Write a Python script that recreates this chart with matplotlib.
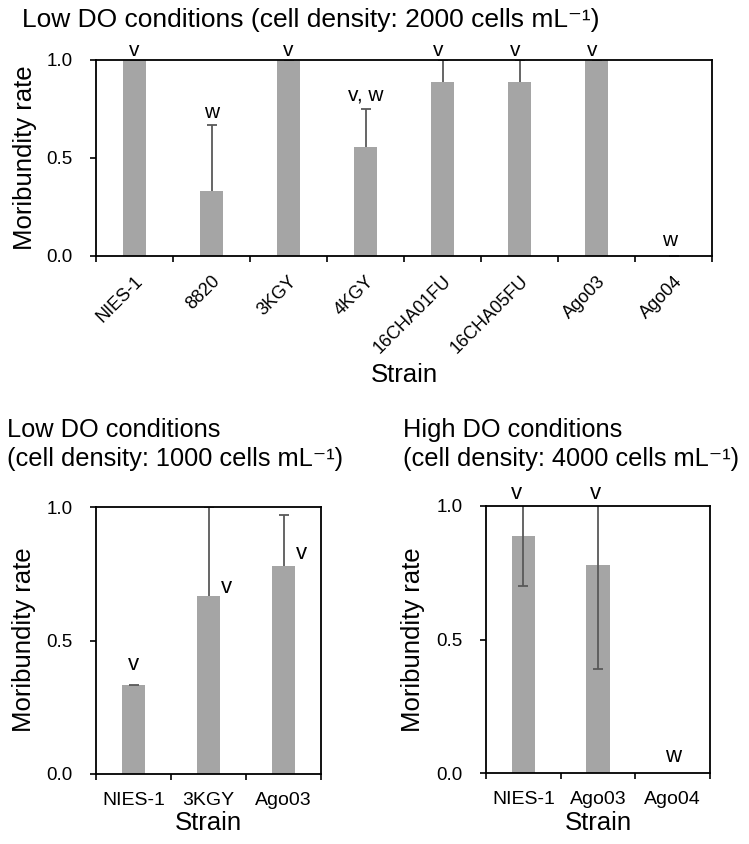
import matplotlib
matplotlib.use("Agg")
import matplotlib.pyplot as plt
import numpy as np

plt.rcParams['font.family'] = ['Liberation Sans', 'DejaVu Sans']

# top panel: low DO, 2000 cells/mL
strains_a = ['NIES-1', '8820', '3KGY', '4KGY', '16CHA01FU', '16CHA05FU', 'Ago03', 'Ago04']
rate_a = [1.0, 0.333, 1.0, 0.556, 0.889, 0.889, 1.0, 0.0]
err_a = [0.0, 0.333, 0.0, 0.194, 0.111, 0.111, 0.0, 0.0]
letters_a = ['v', 'w', 'v', 'v, w', 'v', 'v', 'v', 'w']
letter_x_a = [0, 1, 2, 3, 3.95, 4.95, 5.95, 6.95]
letter_y_a = [1.05, 0.73, 1.05, 0.82, 1.05, 1.05, 1.05, 0.077]

# bottom left: low DO, 1000 cells/mL
strains_b = ['NIES-1', '3KGY', 'Ago03']
rate_b = [0.333, 0.667, 0.778]
err_b = [0.0, 0.333, 0.192]
letters_b = ['v', 'v', 'v']
letter_x_b = [0.0, 1.245, 2.235]
letter_y_b = [0.41, 0.70, 0.825]

# bottom right: high DO, 4000 cells/mL
strains_c = ['NIES-1', 'Ago03', 'Ago04']
rate_c = [0.889, 0.778, 0.0]
err_c = [0.19, 0.388, 0.0]
letters_c = ['v', 'v', 'w']
letter_x_c = [-0.09, 0.97, 2.0]
letter_y_c = [1.046, 1.046, 0.06]

bar_col = '#a5a5a5'
err_col = '#595959'
W, H = 749, 844


def style_axes(ax, n, xpad):
    ax.set_xlim(-0.5, n - 0.5)
    ax.set_ylim(0, 1.0)
    ax.set_yticks([0, 0.5, 1.0])
    ax.set_yticklabels(['0.0', '0.5', '1.0'])
    ax.set_xticks(np.arange(n))
    ax.set_xticks(np.arange(n + 1) - 0.5, minor=True)
    ax.tick_params(axis='x', which='major', length=0, pad=xpad)
    ax.tick_params(axis='x', which='minor', length=4.5, width=1.2, direction='out')
    ax.tick_params(axis='y', length=4, width=1.2, direction='out', labelsize=13.5, pad=13)
    for s in ax.spines.values():
        s.set_linewidth(1.3)


def up_errors(ax, x, y, e):
    # one-sided (upper) error bars with a cap only at the top
    y = np.asarray(y)
    top = y + np.asarray(e)
    ax.vlines(x, y, top, color=err_col, lw=1.3, zorder=2)
    ax.plot(x, top, ls='none', marker='_', ms=7.2, mew=1.3, color=err_col, zorder=2)


def px_text(x, y, s, **kw):
    fig.text(x / W, 1 - y / H, s, **kw)


fig = plt.figure(figsize=(7.49, 8.44), dpi=100)

# ---- top panel
ax1 = fig.add_axes([96 / W, 1 - 256 / H, 616 / W, 196 / H])
x = np.arange(len(strains_a))
ax1.bar(x, rate_a, width=0.31, color=bar_col, zorder=1)
up_errors(ax1, x, rate_a, err_a)
style_axes(ax1, len(strains_a), 12)
ax1.set_xticklabels(strains_a, rotation=45, ha='right', rotation_mode='anchor', fontsize=13)
for xi, t, yi in zip(letter_x_a, letters_a, letter_y_a):
    ax1.text(xi, yi, t, ha='center', va='center', fontsize=15, clip_on=False)
px_text(25, 157.5, 'Moribundity rate', fontsize=18.5, rotation=90, ha='center', va='center')
px_text(404, 375, 'Strain', fontsize=18.5, ha='center', va='center')
px_text(22, 20, 'Low DO conditions (cell density: 2000 cells mL\u207b\u00b9)',
        fontsize=19, ha='left', va='center')

# ---- bottom left
ax2 = fig.add_axes([96 / W, 1 - 774 / H, 225 / W, 267 / H])
x = np.arange(len(strains_b))
ax2.bar(x, rate_b, width=0.31, color=bar_col, zorder=1)
up_errors(ax2, x, rate_b, err_b)
style_axes(ax2, len(strains_b), 13)
ax2.set_xticklabels(strains_b, fontsize=14)
for xi, t, yi in zip(letter_x_b, letters_b, letter_y_b):
    ax2.text(xi, yi, t, ha='center', va='center', fontsize=16, clip_on=False)
px_text(24, 640, 'Moribundity rate', fontsize=18.5, rotation=90, ha='center', va='center')
px_text(208, 823, 'Strain', fontsize=18.5, ha='center', va='center')
px_text(7, 430, 'Low DO conditions', fontsize=18.3, ha='left', va='center')
px_text(7, 459, '(cell density: 1000 cells mL\u207b\u00b9)', fontsize=18.3,
        ha='left', va='center')

# ---- bottom right
ax3 = fig.add_axes([486 / W, 1 - 773 / H, 224 / W, 267 / H])
x = np.arange(len(strains_c))
ax3.bar(x, rate_c, width=0.31, color=bar_col, zorder=1)
ax3.errorbar(x[:2], rate_c[:2], yerr=err_c[:2], fmt='none', ecolor=err_col,
             elinewidth=1.3, capsize=3.6, capthick=1.3, zorder=2)
style_axes(ax3, len(strains_c), 13)
ax3.set_xticklabels(strains_c, fontsize=14)
for xi, t, yi in zip(letter_x_c, letters_c, letter_y_c):
    ax3.text(xi, yi, t, ha='center', va='center', fontsize=16, clip_on=False)
px_text(413, 640, 'Moribundity rate', fontsize=18.5, rotation=90, ha='center', va='center')
px_text(598, 823, 'Strain', fontsize=18.5, ha='center', va='center')
px_text(403, 430, 'High DO conditions', fontsize=18.3, ha='left', va='center')
px_text(403, 459, '(cell density: 4000 cells mL\u207b\u00b9)', fontsize=18.3,
        ha='left', va='center')

fig.savefig('out.png', dpi=100)
